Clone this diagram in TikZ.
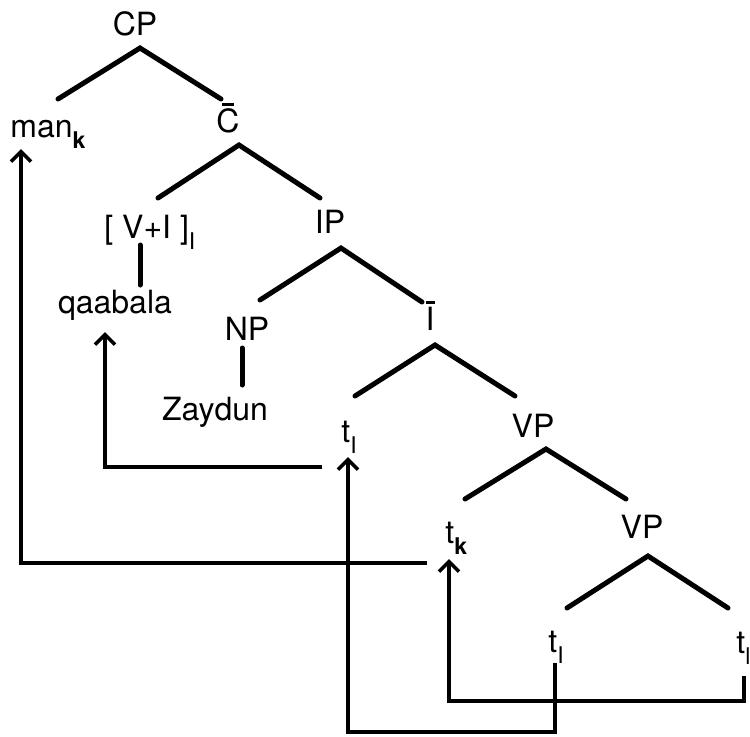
\documentclass[tikz,border=0pt]{standalone}
\usepackage{fontspec}
\setmainfont{TeX Gyre Heros}
\usetikzlibrary{arrows.meta}
\newcommand{\sbx}[1]{\raisebox{-5.5pt}{\fontsize{11.5}{11.5}\selectfont #1}}
\newcommand{\ovl}[2]{\setbox0\hbox{#1}\rlap{\hbox to\wd0{\hss\raisebox{\dimexpr\ht0+1.3pt\relax}{\rule{#2}{1.3pt}}\hss}}\box0}
\begin{document}
\begin{tikzpicture}[x=0.5pt,y=-0.5pt,
  lbl/.style={inner sep=0pt, font=\fontsize{16}{18}\selectfont, anchor=base},
  lblw/.style={lbl, anchor=base west},
  edge/.style={line width=2.5pt, line cap=round},
  mv/.style={line width=1.8pt, -{Straight Barb[length=5pt,width=10pt]}}]
\useasboundingbox (0,0) rectangle (750,736);
% labels
\node[lbl] (CP) at (135,35) {CP};
\node[lblw] (man) at (10,137) {man\sbx{\bfseries k}};
\node[lbl] (Cbar) at (228,132) {\ovl{C}{6pt}};
\node[lblw] (VI) at (104,238) {[ V+I ]\sbx{I}};
\node[lbl] (qaabala) at (115,313) {qaabala};
\node[lbl] (IP) at (330,233) {IP};
\node[lbl] (NP) at (247,340) {NP};
\node[lbl] (Zaydun) at (215,420) {Zaydun};
\node[lbl] (Ibar) at (430,330) {\ovl{I}{4.5pt}};
\node[lblw] (tIa) at (341,442) {t\sbx{I}};
\node[lbl] (VPa) at (533,437) {VP};
\node[lblw] (tk) at (445,543) {t\sbx{\bfseries k}};
\node[lbl] (VPb) at (642,538) {VP};
\node[lblw] (tIb) at (548,652) {t\sbx{I}};
\node[lblw] (tl) at (736,653) {t\sbx{l}};
% tree coordinates
\coordinate (CP-a) at (140,48);
\coordinate (man-t) at (58,99);
\coordinate (Cbar-t) at (221,99);
\coordinate (Cbar-a) at (239,145);
\coordinate (VI-t) at (158,198);
\coordinate (IP-t) at (320,198);
\coordinate (VI-a) at (140,245);
\coordinate (qaabala-t) at (140,285);
\coordinate (IP-a) at (341,248);
\coordinate (NP-t) at (260,300);
\coordinate (Ibar-t) at (422,302);
\coordinate (NP-a) at (242,348);
\coordinate (Zaydun-t) at (242,385);
\coordinate (Ibar-a) at (435,345);
\coordinate (tIa-t) at (355,396);
\coordinate (VPa-t) at (515,396);
\coordinate (VPa-a) at (546,449);
\coordinate (tk-t) at (465,499);
\coordinate (VPb-t) at (626,499);
\coordinate (VPb-a) at (648,556);
\coordinate (tIb-t) at (567,608);
\coordinate (tl-t) at (728,608);
% tree edges
\draw[edge] (man-t) -- (CP-a) -- (Cbar-t);
\draw[edge] (VI-t) -- (Cbar-a) -- (IP-t);
\draw[edge] (VI-a) -- (qaabala-t);
\draw[edge] (NP-t) -- (IP-a) -- (Ibar-t);
\draw[edge] (NP-a) -- (Zaydun-t);
\draw[edge] (tIa-t) -- (Ibar-a) -- (VPa-t);
\draw[edge] (tk-t) -- (VPa-a) -- (VPb-t);
\draw[edge] (tIb-t) -- (VPb-a) -- (tl-t);
% movement coordinates
\coordinate (tIb-f) at (555,663);
\coordinate (tIa-h) at (348,457);
\coordinate (tl-f) at (744,676);
\coordinate (tk-h) at (449,559);
\coordinate (tIa-f) at (322,467);
\coordinate (qaabala-h) at (105,332);
\coordinate (tk-f) at (427,563);
\coordinate (man-h) at (21,149);
% movement arrows
\draw[mv] (tIb-f) -- (555,732) -| (tIa-h);
\draw[mv] (tl-f) -- (744,701) -| (tk-h);
\draw[mv] (tIa-f) -| (qaabala-h);
\draw[mv] (tk-f) -| (man-h);
\end{tikzpicture}
\end{document}
